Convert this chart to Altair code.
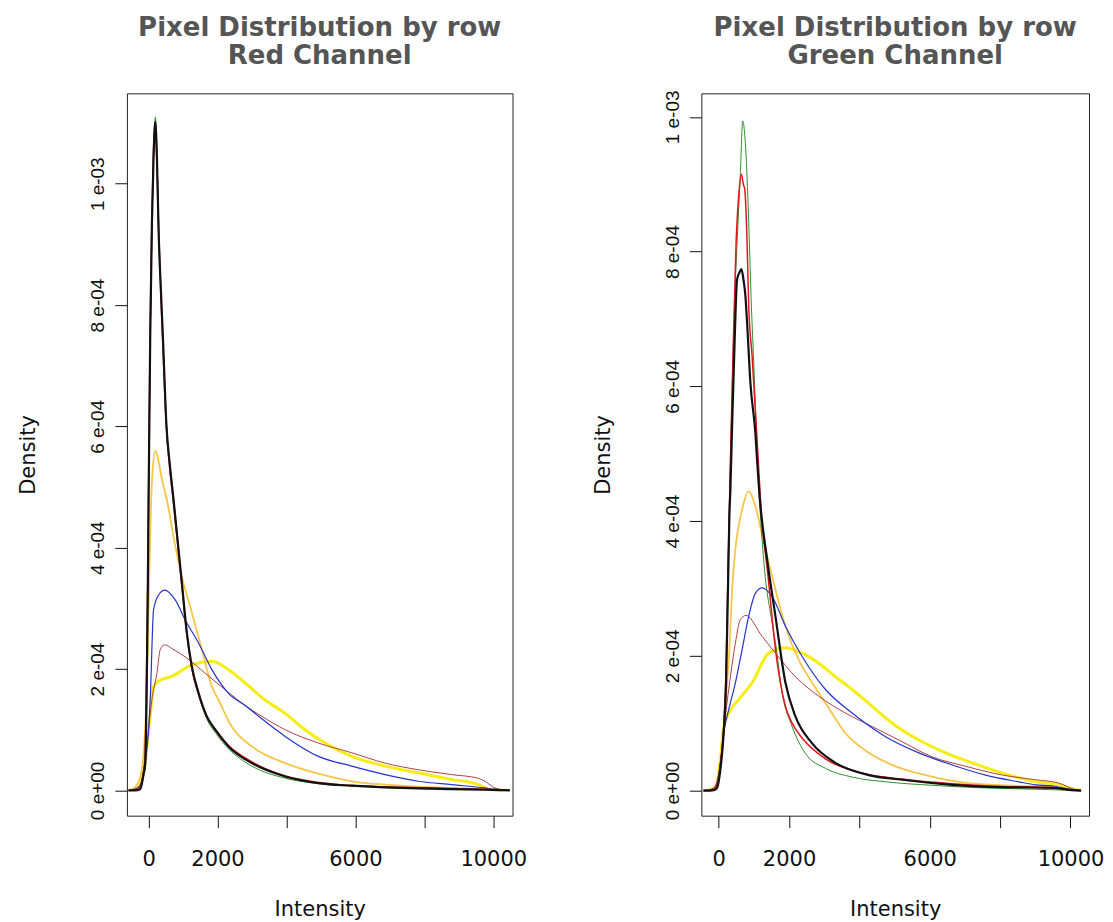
import altair as alt
import pandas as pd

# ---------------- data (density values in units of 1e-4) ----------------
L_black_x = [-580, -400, -241, -145, -97, -48, -20, 0, 48, 97, 145, 193, 242, 290, 357, 415, 520, 620, 725, 821, 966, 1110, 1256, 1449, 1690, 1932, 2319, 2995, 3962, 4928, 5894, 7343, 8792, 9855, 10300, 10480]
L_black_y = [0, 0, 0.02, 0.27, 0.44, 2.0, 3.46, 4.79, 7.48, 9.35, 10.44, 11.02, 10.44, 9.24, 8.25, 7.48, 6.0, 5.35, 4.79, 4.24, 3.42, 2.6, 2.04, 1.61, 1.22, 1.0, 0.725, 0.45, 0.23, 0.12, 0.077, 0.04, 0.02, 0.01, 0.003, 0]
L_red_x = [-580, -400, -250, -150, -100, -50, -20, 0, 45, 95, 140, 190, 240, 290, 355, 410, 515, 615, 720, 820, 960, 1100, 1250, 1450, 1700, 1950, 2300, 3000, 3950, 4950, 5900, 7350, 8800, 9850, 10300, 10480]
L_red_y = [0, 0.01, 0.05, 0.3, 0.6, 2.3, 3.6, 4.9, 7.6, 9.4, 10.5, 10.95, 10.4, 9.3, 8.2, 7.4, 6.0, 5.3, 4.75, 4.2, 3.4, 2.62, 2.02, 1.58, 1.2, 1.0, 0.75, 0.47, 0.24, 0.13, 0.08, 0.05, 0.03, 0.015, 0.005, 0]
L_green_x = [-580, -400, -240, -140, -95, -45, -18, 0, 50, 100, 148, 196, 245, 292, 360, 418, 522, 622, 728, 824, 970, 1115, 1260, 1455, 1695, 1940, 2330, 3000, 3970, 4930, 5900, 7340, 8790, 9850, 10300, 10480]
L_green_y = [0, 0, 0.02, 0.25, 0.4, 1.9, 3.4, 4.7, 7.4, 9.3, 10.5, 11.1, 10.5, 9.2, 8.2, 7.45, 6.05, 5.35, 4.8, 4.25, 3.4, 2.58, 2.0, 1.57, 1.17, 0.95, 0.68, 0.4, 0.2, 0.11, 0.07, 0.035, 0.018, 0.008, 0.002, 0]
L_gold_x = [-580, -400, -250, -120, -40, 0, 60, 120, 200, 280, 380, 530, 750, 966, 1208, 1546, 1836, 2029, 2415, 2995, 3962, 4928, 5894, 6860, 8309, 9758, 10300, 10480]
L_gold_y = [0, 0.05, 0.2, 0.8, 2.0, 3.0, 4.5, 5.3, 5.6, 5.45, 5.15, 4.79, 4.1, 3.52, 3.03, 2.32, 1.71, 1.49, 1.05, 0.725, 0.45, 0.275, 0.15, 0.094, 0.05, 0.02, 0.005, 0]
L_blue_x = [-580, -400, -250, -145, -48, 0, 48, 145, 290, 464, 773, 1063, 1449, 1836, 2319, 2802, 3285, 3962, 4928, 5894, 6860, 7826, 8792, 9758, 10000, 10300, 10480]
L_blue_y = [0, 0.02, 0.08, 0.3, 0.7, 1.0, 1.5, 2.98, 3.22, 3.30, 3.14, 2.81, 2.43, 1.99, 1.6, 1.40, 1.18, 0.89, 0.56, 0.40, 0.26, 0.15, 0.094, 0.04, 0.02, 0.005, 0]
L_brown_x = [-580, -400, -250, -145, -48, 0, 97, 242, 338, 464, 700, 1063, 1643, 2222, 2800, 3285, 3962, 4928, 5894, 6860, 7826, 8792, 9565, 9758, 10050, 10435]
L_brown_y = [0, 0.02, 0.08, 0.3, 0.7, 1.0, 1.5, 1.93, 2.32, 2.40, 2.33, 2.2, 1.93, 1.66, 1.4, 1.22, 1.0, 0.78, 0.62, 0.45, 0.34, 0.26, 0.2, 0.15, 0.04, 0]
L_yellow_x = [-580, -400, -250, -145, -97, 0, 48, 145, 290, 676, 1256, 1836, 2319, 2802, 3382, 3962, 4541, 5121, 5894, 6860, 7826, 8792, 9565, 9855, 10050, 10300]
L_yellow_y = [0, 0.02, 0.08, 0.3, 0.44, 0.99, 1.22, 1.71, 1.80, 1.88, 2.07, 2.13, 1.99, 1.77, 1.49, 1.27, 1.0, 0.78, 0.56, 0.4, 0.29, 0.18, 0.094, 0.02, 0.005, 0]

R_black_x = [-430, -250, -120, -46, 48, 142, 210, 267, 304, 333, 381, 455, 523, 600, 646, 700, 760, 808, 902, 1044, 1092, 1158, 1377, 1613, 1898, 2182, 2657, 3320, 4268, 5218, 6640, 8063, 9485, 9960, 10300]
R_black_y = [0, 0, 0.01, 0.04, 0.31, 0.85, 1.6, 3.08, 4.07, 4.47, 5.4, 6.7, 7.59, 7.7, 7.74, 7.6, 7.34, 6.94, 6.05, 5.3, 4.9, 4.4, 3.43, 2.59, 1.6, 1.1, 0.70, 0.41, 0.23, 0.16, 0.085, 0.05, 0.04, 0.01, 0]
R_red_x = [-430, -250, -120, -46, 48, 142, 210, 267, 330, 400, 495, 569, 646, 700, 740, 808, 854, 950, 1092, 1200, 1400, 1613, 1898, 2088, 2372, 3036, 4000, 5218, 6640, 8063, 9485, 9960, 10300]
R_red_y = [0, 0.01, 0.03, 0.1, 0.4, 0.95, 1.8, 3.3, 4.8, 6.3, 8.13, 8.83, 9.15, 9.0, 8.93, 8.13, 7.19, 6.45, 5.21, 4.2, 3.2, 2.1, 1.25, 1.0, 0.78, 0.47, 0.27, 0.17, 0.1, 0.06, 0.045, 0.01, 0]
R_green_x = [-430, -250, -120, -46, 48, 142, 210, 267, 330, 400, 470, 523, 617, 683, 779, 854, 930, 996, 1044, 1121, 1300, 1500, 1613, 1803, 2088, 2467, 3036, 3795, 4743, 6000, 7500, 9000, 9960, 10300]
R_green_y = [0, 0.01, 0.03, 0.1, 0.4, 0.95, 1.8, 3.3, 4.8, 6.3, 7.5, 8.13, 9.17, 9.94, 9.42, 8.43, 7.19, 6.35, 5.7, 4.72, 3.3, 2.55, 2.2, 1.45, 0.95, 0.55, 0.33, 0.2, 0.13, 0.08, 0.04, 0.02, 0.005, 0]
R_gold_x = [-430, -250, -120, -46, 48, 142, 238, 304, 381, 475, 665, 854, 1044, 1281, 1519, 1898, 2276, 2657, 3036, 3605, 4268, 5027, 5880, 7112, 8536, 9485, 10060, 10300]
R_gold_y = [0, 0.01, 0.04, 0.12, 0.4, 0.85, 1.6, 2.09, 2.98, 3.58, 4.17, 4.44, 4.22, 3.68, 3.18, 2.44, 1.94, 1.6, 1.3, 0.85, 0.56, 0.36, 0.23, 0.11, 0.07, 0.05, 0.01, 0]
R_blue_x = [-430, -250, -120, -46, 48, 142, 285, 475, 665, 854, 1044, 1234, 1519, 1898, 2372, 3036, 3795, 4743, 5690, 6640, 7587, 8535, 9009, 9485, 9960, 10300]
R_blue_y = [0, 0.01, 0.04, 0.12, 0.4, 0.85, 1.2, 1.6, 2.09, 2.59, 2.93, 3.01, 2.88, 2.44, 1.99, 1.5, 1.15, 0.8, 0.56, 0.38, 0.23, 0.13, 0.085, 0.07, 0.02, 0]
R_brown_x = [-430, -250, -120, -46, 48, 191, 333, 475, 617, 779, 1234, 1613, 2182, 2845, 3605, 4364, 5121, 6071, 7020, 8063, 9010, 9673, 10100, 10300]
R_brown_y = [0, 0.01, 0.04, 0.12, 0.4, 1.1, 1.69, 2.19, 2.54, 2.6, 2.29, 2.04, 1.69, 1.4, 1.15, 0.95, 0.75, 0.5, 0.36, 0.23, 0.16, 0.11, 0.02, 0]
R_yellow_x = [-430, -250, -120, -46, 48, 142, 285, 569, 949, 1423, 1898, 2372, 2845, 3320, 3795, 4364, 4933, 5690, 6450, 7209, 8063, 9010, 9673, 9960, 10300]
R_yellow_y = [0, 0.01, 0.04, 0.12, 0.45, 0.95, 1.15, 1.35, 1.6, 2.04, 2.12, 2.04, 1.89, 1.69, 1.5, 1.25, 1.0, 0.75, 0.56, 0.41, 0.26, 0.13, 0.085, 0.04, 0]

Y_TICKS = [0, 2, 4, 6, 8, 10]
Y_TICK_LABELS = ["0 e+00", "2 e-04", "4 e-04", "6 e-04", "8 e-04", "1 e-03"]
X_TICKS = [0, 2000, 4000, 6000, 8000, 10000]
X_TICK_LABELS = ["0", "2000", "", "6000", "", "10000"]

TITLE_LINE1 = "Pixel Distribution by row"
LEFT_SUB = "Red Channel"
RIGHT_SUB = "Green Channel"

# series styling: (color, stroke width), drawn in this order
STYLE = {
    "yellow": ("#F4EE14", 3.0),
    "gold": ("#F7C548", 1.8),
    "brown": ("#B5403F", 1.0),
    "blue": ("#2535CC", 1.2),
    "black": ("#111111", 2.2),
    "green": ("#2F8F2F", 1.0),
    "red": ("#E3151B", 1.5),
}
ORDER = ["yellow", "gold", "brown", "blue", "green", "red", "black"]

LEFT_SERIES = {
    "black": (L_black_x, L_black_y), "red": (L_red_x, L_red_y), "green": (L_green_x, L_green_y),
    "gold": (L_gold_x, L_gold_y), "blue": (L_blue_x, L_blue_y), "brown": (L_brown_x, L_brown_y),
    "yellow": (L_yellow_x, L_yellow_y),
}
RIGHT_SERIES = {
    "black": (R_black_x, R_black_y), "red": (R_red_x, R_red_y), "green": (R_green_x, R_green_y),
    "gold": (R_gold_x, R_gold_y), "blue": (R_blue_x, R_blue_y), "brown": (R_brown_x, R_brown_y),
    "yellow": (R_yellow_x, R_yellow_y),
}


def label_expr(vals, labels):
    expr = "''"
    for v, l in reversed(list(zip(vals, labels))):
        expr = f"datum.value == {v} ? '{l}' : {expr}"
    return expr


x_axis = alt.Axis(
    values=X_TICKS, labelExpr=label_expr(X_TICKS, X_TICK_LABELS),
    labelFont="DejaVu Sans", labelFontSize=21, labelColor="#111", labelPadding=21,
    labelOverlap=False, labelFlush=False,
    tickSize=12, tickColor="#111", tickWidth=1, domain=False, grid=False,
    title="Intensity", titleFont="DejaVu Sans", titleFontSize=21, titleFontWeight="normal",
    titleColor="#111", titlePadding=29,
)
y_axis = alt.Axis(
    values=Y_TICKS, labelExpr=label_expr(Y_TICKS, Y_TICK_LABELS),
    labelAngle=270, labelAlign="center", labelBaseline="bottom",
    labelFont="Liberation Sans", labelFontSize=19, labelColor="#111", labelPadding=7,
    labelOverlap=False, labelFlush=False,
    tickSize=12, tickColor="#111", tickWidth=1, domain=False, grid=False,
    title="Density", titleFont="DejaVu Sans", titleFontSize=21, titleFontWeight="normal",
    titleColor="#111", titlePadding=50,
)


def panel(series, sub, xdom, ydom, width, title_offset):
    layers = []
    for name in ORDER:
        xs, ys = series[name]
        color, sw = STYLE[name]
        df = pd.DataFrame({"Intensity": xs, "Density": ys})
        layers.append(
            alt.Chart(df).mark_line(color=color, strokeWidth=sw, interpolate="monotone", clip=True).encode(
                x=alt.X("Intensity:Q", scale=alt.Scale(domain=xdom, nice=False, zero=False), axis=x_axis),
                y=alt.Y("Density:Q", scale=alt.Scale(domain=ydom, nice=False, zero=False), axis=y_axis),
            )
        )
    return alt.layer(*layers).properties(
        width=width, height=723,
        title=alt.TitleParams(
            text=[TITLE_LINE1, sub], font="DejaVu Sans", fontSize=26, fontWeight="bold",
            color="#555555", lineHeight=28, anchor="middle", frame="group", offset=title_offset,
        ),
    )


left = panel(LEFT_SERIES, LEFT_SUB, [-629, 10559], [-0.417, 11.49], 386, 24.5)
right = panel(RIGHT_SERIES, RIGHT_SUB, [-492, 10526], [-0.373, 10.35], 388, 21)

chart = (
    alt.hconcat(left, right, spacing=64)
    .properties(padding={"left": 9, "top": 6, "right": 0, "bottom": 0}, background="white")
    .configure_view(stroke="#222222", strokeWidth=1)
)

chart.save("out.html", embed_options={"renderer": "svg", "actions": False})
